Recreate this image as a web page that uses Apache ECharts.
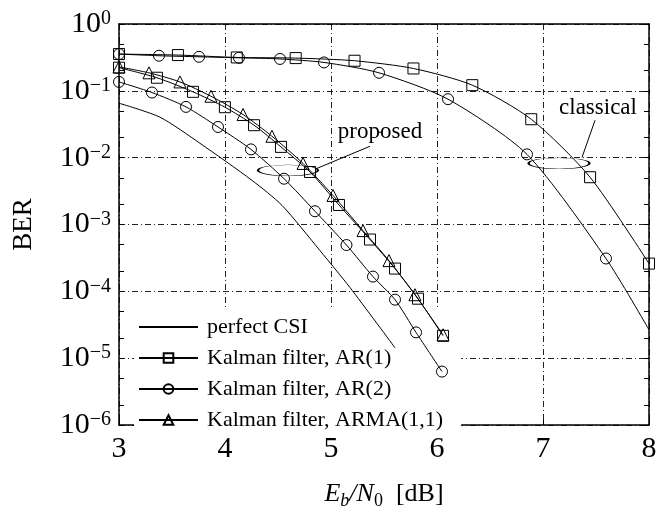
<!DOCTYPE html>
<html>
<head>
<meta charset="utf-8">
<script src="https://cdn.jsdelivr.net/npm/echarts@6/dist/echarts.min.js"></script>
<style>
  html, body { margin: 0; padding: 0; background: #fff; }
  #main { width: 670px; height: 508px; }
</style>
</head>
<body>
<div id="main"></div>
<script>
// BER curves (Eb/N0 in dB, BER)
const perfectX = [3.0, 3.387, 3.764, 4.255, 4.538, 4.896, 5.179, 5.604];
const perfectBER = [0.0653, 0.0403, 0.0164, 0.00457, 0.00193, 4.07e-4, 1.14e-4, 1.43e-5];

const propAR1X = [3.0, 3.358, 3.698, 3.999, 4.274, 4.528, 4.802, 5.075, 5.368, 5.604, 5.821, 6.057];
const propAR1BER = [0.222, 0.157, 0.0966, 0.0569, 0.0306, 0.0145, 0.0061, 0.00196, 5.96e-4, 2.19e-4, 7.76e-5, 2.16e-5];

const propAR2X = [3.0, 3.311, 3.632, 3.934, 4.245, 4.557, 4.849, 5.146, 5.396, 5.604, 5.802, 6.047];
const propAR2BER = [0.136, 0.0944, 0.0575, 0.0288, 0.0133, 0.00484, 0.00158, 4.93e-4, 1.66e-4, 7.5e-5, 2.43e-5, 6.3e-6];

const propARMAX = [3.0, 3.283, 3.575, 3.868, 4.170, 4.443, 4.736, 5.019, 5.302, 5.547, 5.792, 6.057];
const propARMABER = [0.228, 0.186, 0.136, 0.083, 0.0442, 0.0209, 0.0082, 0.00272, 8.1e-4, 2.88e-4, 8.9e-5, 2.24e-5];

const classAR1X = [3.0, 3.556, 4.111, 4.667, 5.222, 5.778, 6.333, 6.889, 7.444, 8.0];
const classAR1BER = [0.355, 0.343, 0.316, 0.309, 0.282, 0.216, 0.1216, 0.0376, 0.0051, 2.6e-4];

const classAR2X = [3.0, 3.377, 3.755, 4.132, 4.519, 4.934, 5.453, 6.104, 6.849, 7.594];
const classAR2BER = [0.355, 0.335, 0.323, 0.312, 0.30, 0.266, 0.186, 0.075, 0.0112, 3.1e-4];
const classAR2Tail = [8.0, 2.66e-5]; // curve end, no marker

const legendNames = ['perfect CSI', 'Kalman filter, AR(1)', 'Kalman filter, AR(2)', 'Kalman filter, ARMA(1,1)'];
const yMinorTicks = [1e-6, 2e-6, 5e-6, 1e-5, 2e-5, 5e-5, 1e-4, 2e-4, 5e-4, 1e-3, 2e-3, 5e-3,
  1e-2, 2e-2, 5e-2, 1e-1, 2e-1, 5e-1, 1];

// annotation anchors (data coords)
const proposedEllipse = [4.594, 0.00646];
const proposedLeader = [[4.868, 0.00692], [5.368, 0.0148]];
const proposedText = [5.462, 0.024];
const classicalEllipse = [7.151, 0.00822];
const classicalLeader = [[7.368, 0.0101], [7.491, 0.0363]];
const classicalText = [7.519, 0.055];

const FONT = "'Liberation Serif', 'Times New Roman', serif";

const pairs = (xs, ys) => xs.map((x, i) => [x, ys[i]]);

function curve(name, data, symbol) {
  const hidden = symbol === 'none';
  return {
    name: name,
    type: 'line',
    data: data,
    symbol: symbol,
    symbolSize: symbol === 'triangle' ? 12 : 11,
    showAllSymbol: true,
    smooth: 0.25,
    lineStyle: { color: '#000', width: 1 },
    // perfect CSI has no marker, keep its legend marker invisible too
    itemStyle: { color: 'rgba(0,0,0,0)', borderColor: hidden ? 'rgba(0,0,0,0)' : '#000', borderWidth: 1 },
    emphasis: { disabled: true },
    z: 3
  };
}

const tickOnlyLogAxis = (position) => ({
  type: 'log',
  logBase: 10,
  position: position,
  min: 1e-6,
  max: 1,
  axisLine: { show: position === 'right', lineStyle: { color: '#000', width: 1.5 } },
  axisTick: { show: true, inside: true, length: 5, customValues: yMinorTicks, lineStyle: { color: '#000' } },
  axisLabel: { show: false },
  splitLine: { show: false }
});

const myChart = echarts.init(document.getElementById('main'));

const option = {
  animation: false,
  backgroundColor: '#fff',
  grid: { left: 119, right: 21, top: 24, bottom: 83, outerBoundsMode: 'none' },
  legend: {
    data: legendNames,
    orient: 'vertical',
    left: 134,
    top: 308,
    padding: [8, 18, 7, 4],
    itemGap: 9,
    itemWidth: 59,
    itemHeight: 12,
    backgroundColor: '#fff',
    selectedMode: false,
    z: 1,
    textStyle: { fontFamily: FONT, fontSize: 22, color: '#000', lineHeight: 18, padding: [0, 0, 0, 4] }
  },
  xAxis: [
    {
      type: 'value',
      min: 3,
      max: 8,
      interval: 1,
      name: '{i|E}{si|b}{i|/N}{sb|0}{r|  [dB]}',
      nameLocation: 'middle',
      nameGap: 56,
      nameTextStyle: {
        rich: {
          i: { fontFamily: FONT, fontSize: 26, fontStyle: 'italic', color: '#000', lineHeight: 26, verticalAlign: 'top' },
          r: { fontFamily: FONT, fontSize: 26, color: '#000', lineHeight: 26, verticalAlign: 'top' },
          si: { fontFamily: FONT, fontSize: 18, fontStyle: 'italic', color: '#000', lineHeight: 18, verticalAlign: 'top', padding: [11, 0, 0, 0] },
          sb: { fontFamily: FONT, fontSize: 18, color: '#000', lineHeight: 18, verticalAlign: 'top', padding: [11, 0, 0, 0] }
        }
      },
      axisLine: { show: true, onZero: false, lineStyle: { color: '#000', width: 1.5 } },
      axisTick: { show: true, inside: true, length: 5, lineStyle: { color: '#000' } },
      axisLabel: { fontFamily: FONT, fontSize: 30, color: '#000', margin: 9 },
      splitLine: { show: true, lineStyle: { color: '#222', width: 1, type: [6, 3, 1, 3] } }
    },
    {
      type: 'value',
      position: 'top',
      min: 3,
      max: 8,
      interval: 1,
      axisLine: { show: true, onZero: false, lineStyle: { color: '#000', width: 1.5 } },
      axisTick: { show: false },
      axisLabel: { show: false },
      splitLine: { show: false }
    }
  ],
  yAxis: [
    {
      type: 'log',
      logBase: 10,
      min: 1e-6,
      max: 1,
      name: 'BER',
      nameLocation: 'middle',
      nameGap: 82,
      nameTextStyle: { fontFamily: FONT, fontSize: 27, color: '#000' },
      axisLine: { show: true, lineStyle: { color: '#000', width: 1.5 } },
      axisTick: { show: false },
      axisLabel: {
        margin: 8,
        formatter: function (v) {
          const e = Math.round(Math.log10(v));
          return '{b|10}{s|' + (e < 0 ? '\u2212' + (-e) : e) + '}';
        },
        rich: {
          b: { fontFamily: FONT, fontSize: 30, color: '#000', lineHeight: 30, verticalAlign: 'top' },
          s: { fontFamily: FONT, fontSize: 20, color: '#000', lineHeight: 20, verticalAlign: 'top' }
        }
      },
      splitLine: { show: true, lineStyle: { color: '#222', width: 1, type: [6, 3, 1, 3] } }
    },
    tickOnlyLogAxis('right'),
    tickOnlyLogAxis('left')
  ],
  series: [
    curve(legendNames[0], pairs(perfectX, perfectBER), 'none'),
    curve(legendNames[1], pairs(propAR1X, propAR1BER), 'rect'),
    curve(legendNames[2], pairs(propAR2X, propAR2BER), 'circle'),
    curve(legendNames[3], pairs(propARMAX, propARMABER), 'triangle'),
    curve(legendNames[1], pairs(classAR1X, classAR1BER), 'rect'),
    curve(legendNames[2], pairs(classAR2X, classAR2BER).concat([{ value: classAR2Tail, symbol: 'none' }]), 'circle'),
    {
      name: 'annotations',
      type: 'line',
      data: [],
      silent: true,
      markPoint: {
        silent: true,
        data: [
          { coord: proposedEllipse, symbol: 'circle', symbolSize: [60, 11], label: { show: false } },
          { coord: classicalEllipse, symbol: 'circle', symbolSize: [61, 11], label: { show: false } },
          { coord: proposedText, symbol: 'circle', symbolSize: 1, label: { show: true, position: 'inside', formatter: 'proposed' } },
          { coord: classicalText, symbol: 'circle', symbolSize: 1, label: { show: true, position: 'inside', formatter: 'classical' } }
        ],
        itemStyle: { color: 'rgba(0,0,0,0)', borderColor: '#000', borderWidth: 1 },
        label: { fontFamily: FONT, fontSize: 23, color: '#000' }
      },
      markLine: {
        silent: true,
        symbol: ['none', 'none'],
        label: { show: false },
        lineStyle: { color: '#000', width: 1, type: 'solid' },
        data: [
          [{ coord: proposedLeader[0] }, { coord: proposedLeader[1] }],
          [{ coord: classicalLeader[0] }, { coord: classicalLeader[1] }]
        ]
      }
    }
  ]
};

myChart.setOption(option);
</script>
</body>
</html>
